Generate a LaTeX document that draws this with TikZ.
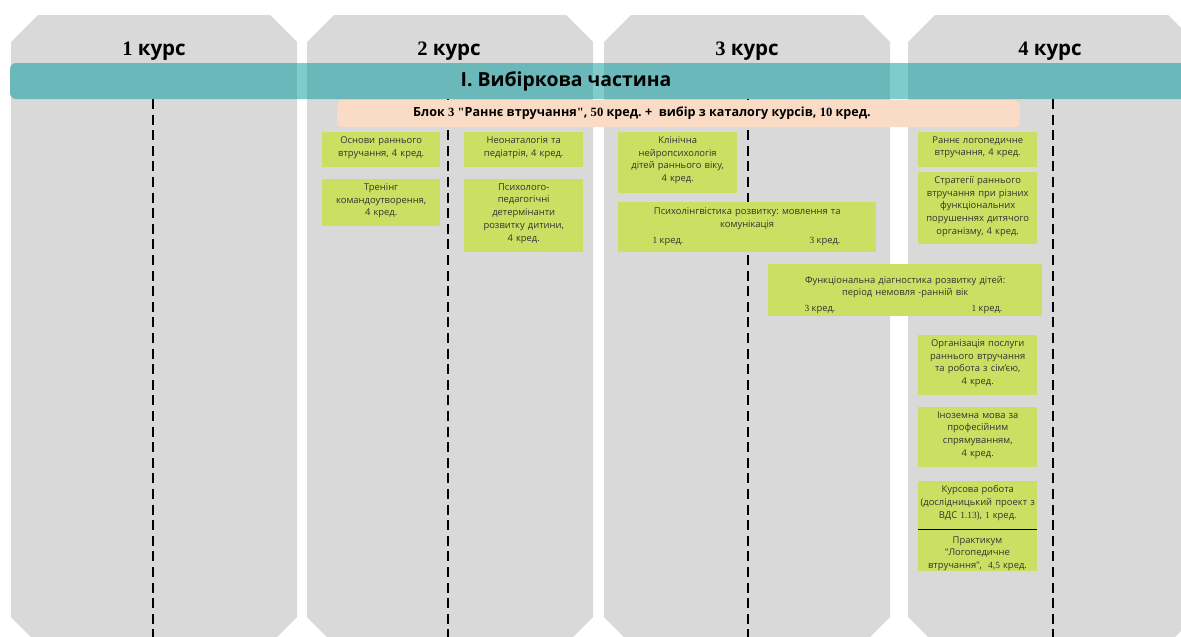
\documentclass[tikz,border=0pt]{standalone}
\usepackage{fontspec}
\setmainfont{Open Sans}
\newfontfamily\dg{Liberation Serif}
\newfontfamily\qf{Liberation Sans}
\definecolor{colgray}{HTML}{D9D9D9}
\definecolor{tealband}{HTML}{6AB8B9}
\definecolor{teallight}{HTML}{80CBCC}
\definecolor{peach}{HTML}{FADCC6}
\definecolor{lime}{HTML}{CBE062}
\definecolor{boxtext}{HTML}{333333}
\begin{document}
\frenchspacing
\begin{tikzpicture}[x=1pt,y=-1pt,
  header/.style={font=\fontsize{20.5}{22}\selectfont\bfseries, text=black, inner sep=0pt},
  titletext/.style={font=\fontsize{19.4}{22}\selectfont\bfseries, text=black, inner sep=0pt},
  blocktext/.style={font=\fontsize{12.6}{14}\selectfont\bfseries, text=black, inner sep=0pt},
  gbox/.style={fill=lime, draw=none, inner sep=0pt, anchor=north west},
  gtext/.style={font=\fontsize{9.4}{12.7}\selectfont, text=boxtext, align=center, anchor=north, inner sep=0pt, yshift=-4.3pt},
  credit/.style={font=\fontsize{9.4}{11}\selectfont, text=boxtext, inner sep=0pt},
  divider/.style={line width=2.6pt, dash pattern=on 10pt off 5.6pt, black},
  sepline/.style={line width=0.9pt, black}
]
\useasboundingbox (0,0) rectangle (1181,637);
\fill[white] (0,0) rectangle (1181,637);

% columns
\foreach \l/\r in {11/297, 307/593, 604/890, 908/1195}{
  \fill[colgray] (\l,42) -- (\l+27,15) -- (\r-27,15) -- (\r,42) -- (\r,617) -- (\r-27,644) -- (\l+27,644) -- (\l,617) -- cycle;
}

% headers
\node[header] (h1) at (154,51) {{\dg 1} курс};
\node[header] (h2) at (449,51) {{\dg 2} курс};
\node[header] (h3) at (747,51) {{\dg 3} курс};
\node[header] (h4) at (1050,51) {{\dg 4} курс};

% dividers
\coordinate (d1t) at (153,99);  \coordinate (d1b) at (153,637);
\coordinate (d2t) at (448,99);  \coordinate (d2b) at (448,637);
\coordinate (d3t) at (748,99);  \coordinate (d3b) at (748,637);
\coordinate (d4t) at (1053,99); \coordinate (d4b) at (1053,637);
\draw[divider] (d1t) -- (d1b);
\draw[divider] (d2t) -- (d2b);
\draw[divider] (d3t) -- (d3b);
\draw[divider] (d4t) -- (d4b);

% teal band
\fill[tealband, rounded corners=6pt] (10,63) rectangle (1210,99);
\fill[teallight] (297,63) rectangle (307,99);
\fill[teallight] (593,63) rectangle (604,99);
\fill[teallight] (890,63) rectangle (908,99);
\node[titletext] (title) at (566,81) {I. Вибіркова частина};

% peach band
\node[fill=peach, rounded corners=5pt, minimum width=683pt, minimum height=27pt, inner sep=0pt, anchor=north west] (blokbg) at (337,100) {};
\node[blocktext] (blok) at (642,113.5) {Блок {\dg 3 "}Раннє втручання{\dg "}, {\dg 50} кред. +\ \ вибір з каталогу курсів, {\dg 10} кред.};

% green boxes
\node[gbox, minimum width=118pt, minimum height=35pt] (b1) at (322,132) {};
\node[gtext, text width=116pt] (t1) at (b1.north) {Основи раннього\\втручання, 4 кред.};

\node[gbox, minimum width=118pt, minimum height=47pt] (b2) at (322,179) {};
\node[gtext, text width=116pt] (t2) at (b2.north) {Тренінг\\командоутворення,\\4 кред.};

\node[gbox, minimum width=119pt, minimum height=35pt] (b3) at (464,132) {};
\node[gtext, text width=117pt] (t3) at (b3.north) {Неонаталогія та\\педіатрія, 4 кред.};

\node[gbox, minimum width=119pt, minimum height=73pt] (b4) at (464,179) {};
\node[gtext, text width=117pt] (t4) at (b4.north) {Психолого-\\педагогічні\\детермінанти\\розвитку дитини,\\4 кред.};

\node[gbox, minimum width=119pt, minimum height=61pt] (b5) at (618,132) {};
\node[gtext, text width=117pt] (t5) at (b5.north) {Клінічна\\нейропсихологія\\дітей раннього віку,\\4 кред.};

\node[gbox, minimum width=258pt, minimum height=50pt] (b6) at (618,202) {};
\node[gtext, text width=250pt, yshift=-1.5pt] (t6) at (b6.north) {Психолінгвістика розвитку: мовлення та\\комунікація};
\node[credit] (c6a) at (668,242) {{\dg 1} кред.};
\node[credit] (c6b) at (825,242) {{\dg 3} кред.};

\node[gbox, minimum width=274pt, minimum height=52pt] (b7) at (768,264) {};
\node[gtext, text width=266pt, yshift=-7.5pt] (t7) at (b7.north) {Функціональна діагностика розвитку дітей:\\період немовля -ранній вік};
\node[credit] (c7a) at (820,310) {{\dg 3} кред.};
\node[credit] (c7b) at (987,310) {{\dg 1} кред.};

\node[gbox, minimum width=119pt, minimum height=35pt] (b8) at (918,132) {};
\node[gtext, text width=117pt] (t8) at (b8.north) {Раннє логопедичне\\втручання, 4 кред.};

\node[gbox, minimum width=119pt, minimum height=72pt] (b9) at (918,172) {};
\node[gtext, text width=117pt] (t9) at (b9.north) {Стратегії раннього\\втручання при різних\\функціональних\\порушеннях дитячого\\організму, 4 кред.};

\node[gbox, minimum width=119pt, minimum height=60pt] (b10) at (918,335) {};
\node[gtext, text width=117pt] (t10) at (b10.north) {Організація послуги\\раннього втручання\\та робота з сім’єю,\\4 кред.};

\node[gbox, minimum width=119pt, minimum height=60pt] (b11) at (918,407) {};
\node[gtext, text width=117pt] (t11) at (b11.north) {Іноземна мова за\\професійним\\спрямуванням,\\4 кред.};

\node[gbox, minimum width=119pt, minimum height=90pt] (b12) at (918,481) {};
\node[gtext, text width=121pt] (t12) at (b12.north) {Курсова робота\\(дослідницький проект з\\ВДС {\dg 1.13}), {\dg 1} кред.};
\coordinate (s12l) at (918,529);
\coordinate (s12r) at (1037,529);
\draw[sepline] (s12l) -- (s12r);
\node[gtext, text width=117pt, yshift=0pt] (t13) at (977.5,532) {Практикум\\{\qf"}Логопедичне\\втручання{\qf"},\ \ {\dg 4,5} кред.};
\end{tikzpicture}
\end{document}
